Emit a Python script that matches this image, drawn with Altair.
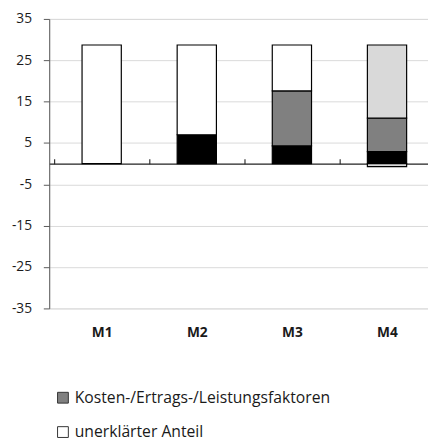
import altair as alt
import pandas as pd

categories = ["M1", "M2", "M3", "M4"]
series_names = [
    "Strukturfaktoren",
    "Kosten-/Ertrags-/Leistungsfaktoren",
    "Sonstige Faktoren",
    "unerklärter Anteil",
    "Sonstige Faktoren (negativ)",
]
series_colors = ["#000000", "#808080", "#d9d9d9", "#ffffff", "#d9d9d9"]
legend_entries = ["Kosten-/Ertrags-/Leistungsfaktoren", "unerklärter Anteil"]

black_vals = [0, 7.0, 4.3, 2.9]
gray_vals = [0, 0, 13.3, 8.1]
lightgray_vals = [0, 0, 0, 17.7]
white_vals = [28.7, 21.7, 11.1, 0]
neg_vals = [0, 0, 0, -0.7]

y_ticks = [-35, -25, -15, -5, 5, 15, 25, 35]

all_vals = [black_vals, gray_vals, lightgray_vals, white_vals, neg_vals]
rows = []
for s_i, (name, vals) in enumerate(zip(series_names, all_vals)):
    for c_i, (cat, v) in enumerate(zip(categories, vals)):
        rows.append({"cat": cat, "idx": c_i, "series": name, "order": s_i, "value": v})
df = pd.DataFrame(rows)

W, H = 386, 295
step_px = 99.5
x_domain = [-0.5, -0.5 + W / step_px]
label_expr = "[" + ",".join("'%s'" % c for c in categories) + "][datum.value]"

xscale = alt.Scale(domain=x_domain, nice=False, zero=False)
yscale = alt.Scale(domain=[-35, 35], nice=False, zero=False)

FONT = "Open Sans"

bars = alt.Chart(df).transform_filter("datum.value != 0").transform_stack(
    stack="value", groupby=["idx"], as_=["y0", "y1"],
    sort=[alt.SortField("order", order="ascending")]
).mark_bar(size=40, stroke="black", strokeWidth=1.2).encode(
    x=alt.X("idx:Q", scale=xscale, title=None,
            axis=alt.Axis(values=[0, 1, 2, 3], labelExpr=label_expr, ticks=False,
                          domain=False, grid=False, labelFontWeight="bold",
                          labelFontSize=14, labelPadding=18, labelColor="#1a1a1a",
                          labelFont=FONT)),
    y=alt.Y("y0:Q", scale=yscale, title=None,
            axis=alt.Axis(values=y_ticks, grid=True, gridColor="#d9d9d9",
                          labelExpr="'' + datum.value",
                          domainColor="#595959", tickColor="#595959", tickSize=6,
                          labelFontSize=14, labelPadding=12, labelColor="#1a1a1a",
                          labelFont=FONT)),
    y2="y1:Q",
    color=alt.Color("series:N",
                    scale=alt.Scale(domain=series_names, range=series_colors),
                    legend=alt.Legend(values=legend_entries, title=None, orient="none",
                                      legendX=6, legendY=378, symbolType="square",
                                      symbolSize=121, symbolStrokeColor="#333333",
                                      symbolStrokeWidth=1, labelFontSize=16,
                                      labelOffset=4, rowPadding=19, padding=0,
                                      labelColor="#1a1a1a", labelLimit=400,
                                      labelFont=FONT)),
)

zero_axis = alt.Chart(df).mark_point(opacity=0).encode(
    x=alt.X("idx:Q", scale=xscale, title=None,
            axis=alt.Axis(orient="top", offset=-(H / 2), values=[-0.5, 0.5, 1.5, 2.5],
                          labels=False, grid=False, domain=True, domainColor="#222222",
                          domainWidth=1.2, ticks=True, tickColor="#333333",
                          tickSize=5, tickWidth=1.2)),
    y=alt.Y("value:Q", scale=yscale, axis=None),
)

chart = alt.layer(bars, zero_axis).resolve_axis(x="independent", y="independent").properties(
    width=W, height=H,
    autosize=alt.AutoSizeParams(type="none"),
    padding={"left": 42, "top": 7, "right": 0, "bottom": 133},
).configure_view(stroke=None).configure(font=FONT)

chart.save("out.html", embed_options={"renderer": "svg", "actions": False})
